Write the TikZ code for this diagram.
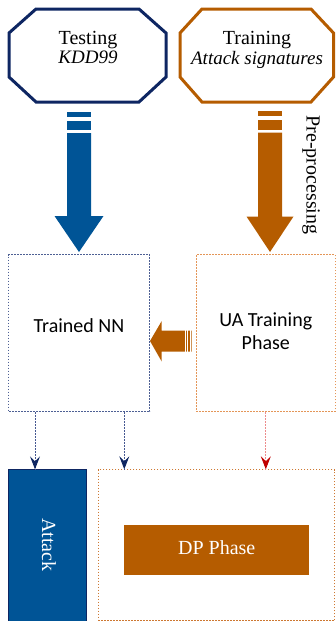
\documentclass[tikz,border=0pt]{standalone}
\usepackage{fontspec}
\setmainfont{Liberation Serif}
\newfontfamily\calibrifont{Carlito}
\usetikzlibrary{arrows.meta,calc}

\definecolor{navyedge}{RGB}{14,38,98}
\definecolor{blockblue}{RGB}{0,84,150}
\definecolor{burnt}{RGB}{181,92,0}
\definecolor{nnline}{RGB}{78,96,148}
\definecolor{ualine}{RGB}{228,150,88}
\definecolor{dpline}{RGB}{205,120,50}
\definecolor{linkblue}{RGB}{70,88,145}
\definecolor{linkred}{RGB}{236,140,140}
\definecolor{tipred}{RGB}{192,0,0}

\begin{document}
\begin{tikzpicture}[x=1pt,y=-1pt,
  octa/.style={line width=3pt, line join=miter},
  serifbig/.style={font=\fontsize{20}{24}\selectfont, inner sep=0pt},
  serifit/.style={font=\fontsize{19}{23}\selectfont\itshape, inner sep=0pt},
  sansbig/.style={font=\calibrifont\fontsize{20}{24}\selectfont, inner sep=0pt},
  dotbox/.style={draw, line width=1.1pt, dash pattern=on 1.8pt off 1.2pt, inner sep=0pt},
  link/.style={line width=0.9pt, dash pattern=on 1.8pt off 1.2pt},
  tiphead/.style={-{Stealth[length=13pt,width=10pt,inset=5pt]}},
  gap/.style={white, line width=0.9pt}
]
\useasboundingbox (0,0) rectangle (336,621);

% input octagons
\draw[octa, navyedge] (36,9) -- (139,9) -- (166,33) -- (166,77) -- (139,102)
  -- (36,102) -- (9,77) -- (9,33) -- cycle;
\draw[octa, burnt] (202,9) -- (311,9) -- (333.5,33) -- (333.5,77) -- (311,102)
  -- (202,102) -- (180,77) -- (180,33) -- cycle;

\node[serifbig, anchor=base] (test) at (88,44.5) {Testing};
\node[serifit, anchor=base] (kdd) at (88,63.5) {KDD99};
\node[serifbig, anchor=base] (train) at (257,44.5) {Training};
\node[serifit, anchor=base] (sig) at (257,64.3) {Attack signatures};

% downward block arrows
\fill[blockblue] (67,112) rectangle (91,117);
\fill[blockblue] (67,121) rectangle (91,130);
\fill[blockblue] (67,133) -- (91,133) -- (91,216) -- (103.5,216) -- (79,252)
  -- (54.5,216) -- (67,216) -- cycle;

\fill[burnt] (258,111) rectangle (282,115.5);
\fill[burnt] (258,120) rectangle (282,129.5);
\fill[burnt] (258,132.5) -- (282,132.5) -- (282,216.5) -- (293.5,216.5) -- (270,252)
  -- (246.5,216.5) -- (258,216.5) -- cycle;

\node[serifbig, rotate=-90] (pre) at (311,175) {Pre-processing};

% middle stage boxes
\node[dotbox, draw=nnline, anchor=north west, minimum width=141pt, minimum height=157pt]
  (nn) at (8.3,254) {};
\node[sansbig, anchor=base] (nntext) at (79,332.7) {Trained NN};

\node[dotbox, draw=ualine, anchor=north west, minimum width=138.8pt, minimum height=157pt]
  (ua) at (195.7,254) {};
\node[sansbig, anchor=base] (uatext1) at (265.8,326) {UA Training};
\node[sansbig, anchor=base] (uatext2) at (265.8,349) {Phase};

% left block arrow from UA to NN
\fill[burnt] (191.7,330.7) -- (161.7,330.7) -- (161.7,321) -- (150,341) -- (161.7,361.5)
  -- (161.7,351.7) -- (191.7,351.7) -- cycle;
\draw[gap] (185.3,330) -- (185.3,352.5);
\draw[gap] (187.7,330) -- (187.7,352.5);
\draw[gap] (190.1,330) -- (190.1,352.5);

% output boxes
\node[draw=navyedge, fill=blockblue, line width=0.6pt, anchor=north west,
  minimum width=77.7pt, minimum height=153pt, inner sep=0pt] (atk) at (8.3,469.3) {};
\node[serifbig, white, rotate=-90] (atktext) at (49,545) {Attack};

\node[dotbox, draw=dpline, anchor=north west, minimum width=236.6pt, minimum height=151pt]
  (dp) at (97.7,469.3) {};
\node[fill=burnt, anchor=north west, minimum width=185pt, minimum height=50pt, inner sep=0pt]
  (dpin) at (124,524.3) {};
\node[serifbig, white, anchor=base] (dptext) at (dpin.center |- 0,554) {DP Phase};

% dotted links
\coordinate (l1) at ($(nn.south west)+(26.7,0)$);
\coordinate (l2) at ($(nn.south west)+(116,0)$);
\draw[link, linkblue] (l1) -- (l1 |- atk.north);
\draw[tiphead, navyedge, line width=0.9pt] ($(l1 |- atk.north)+(0,-8)$) -- (l1 |- atk.north);
\draw[link, linkblue] (l2) -- (l2 |- dp.north);
\draw[tiphead, navyedge, line width=0.9pt] ($(l2 |- dp.north)+(0,-8)$) -- (l2 |- dp.north);
\coordinate (l3) at (uatext1.base |- ua.south);
\draw[link, linkred] (l3) -- (l3 |- dp.north);
\draw[tiphead, tipred, line width=0.9pt] ($(l3 |- dp.north)+(0,-8)$) -- (l3 |- dp.north);
\end{tikzpicture}
\end{document}
